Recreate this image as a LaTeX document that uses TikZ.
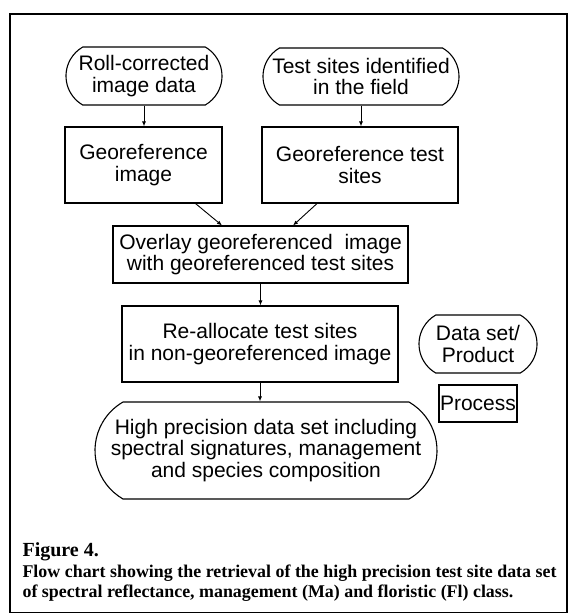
\documentclass[tikz,border=0pt]{standalone}
\usepackage{fontspec}
\setmainfont{Liberation Sans}
\newfontfamily\capfont{Liberation Serif}
\usetikzlibrary{shapes.misc,arrows.meta}
\begin{document}
\begin{tikzpicture}[x=1pt,y=-1pt,
  every node/.style={font=\fontsize{21}{21.5}\selectfont, align=center, inner sep=0pt, line width=1.1pt},
  datanode/.style={draw, rounded rectangle, rounded rectangle arc length=120},
  procnode/.style={draw, rectangle},
  arr/.style={-{Latex[length=5pt,width=4pt]}, line width=0.9pt},
  capstyle/.style={font=\capfont\bfseries\fontsize{17.9}{20}\selectfont, anchor=base west, align=left}
]
\useasboundingbox (0,0) rectangle (568,614);
\draw[line width=1.6pt] (10,14) rectangle (567,612.5);

\node[datanode, minimum width=156pt, minimum height=58pt] (n1) at (144,76) {Roll-corrected\\image data};
\node[datanode, minimum width=196pt, minimum height=57pt] (n2) at (361,76.5) {Test sites identified\\in the field};
\node[procnode, minimum width=157pt, minimum height=76pt] (b3) at (143.5,165) {Georeference\\image};
\node[procnode, minimum width=196pt, minimum height=76pt] (b4) at (360,165) {Georeference test\\sites};
\node[procnode, minimum width=295pt, minimum height=57pt] (b5) at (260.5,254.5) {Overlay georeferenced~ image\\with georeferenced test sites};
\node[procnode, minimum width=276pt, minimum height=76pt] (b6) at (260,344) {Re-allocate test sites\\in non-georeferenced image};
\node[datanode, minimum width=342pt, minimum height=97pt] (n7) at (266,450.5) {High precision data set including\\spectral signatures, management\\and species composition};

\node[datanode, minimum width=118pt, minimum height=58pt] (l1) at (478,344) {Data set/\\Product};
\node[procnode, minimum width=78pt, minimum height=37pt] (l2) at (478,403.5) {Process};

\draw[arr] (n1.south) -- (n1.south |- b3.north);
\draw[arr] (n2.south) -- (n2.south |- b4.north);
\draw[arr] ([xshift=-27pt]b3.south east) -- ([xshift=-38.5pt]b5.north);
\draw[arr] ([xshift=-43pt]b4.south) -- ([xshift=32.5pt]b5.north);
\draw[arr] (b5.south) -- (b5.south |- b6.north);
\draw[arr] (b6.south) -- (b6.south |- n7.north);

\node[capstyle, font=\capfont\bfseries\fontsize{20}{20}\selectfont] (fig) at (22,556) {Figure 4.};
\node[capstyle] (cap1) at (22,577) {\makebox[534pt][s]{Flow chart showing the retrieval of the high precision test site data set}};
\node[capstyle] (cap2) at (22,597) {of spectral reflectance, management (Ma) and floristic (Fl) class.};
\end{tikzpicture}
\end{document}
